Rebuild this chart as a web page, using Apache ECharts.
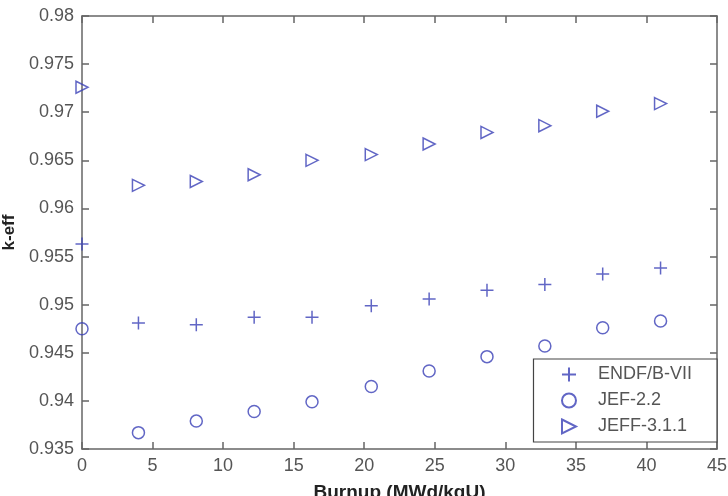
<!DOCTYPE html>
<html>
<head>
<meta charset="utf-8">
<script src="https://cdn.jsdelivr.net/npm/echarts@6/dist/echarts.min.js"></script>
<style>
  html, body { margin: 0; padding: 0; background: #fff; }
  #chart { width: 728px; height: 496px; }
</style>
</head>
<body>
<div id="chart"></div>
<script>
// burnup steps (MWd/kgU)
const burnup = [0, 4.0, 8.1, 12.2, 16.3, 20.5, 24.6, 28.7, 32.8, 36.9, 41.0];
// k-eff per library
const endf = [0.9563, 0.9481, 0.9479, 0.9487, 0.9487, 0.9499, 0.9506, 0.9515, 0.9521, 0.9532, 0.9538];
const jef22 = [0.9475, 0.9367, 0.9379, 0.9389, 0.9399, 0.9415, 0.9431, 0.9446, 0.9457, 0.9476, 0.9483];
const jeff311 = [0.9726, 0.9624, 0.9628, 0.9635, 0.9650, 0.9656, 0.9667, 0.9679, 0.9686, 0.9701, 0.9709];
const seriesNames = ['ENDF/B-VII', 'JEF-2.2', 'JEFF-3.1.1'];

const blue = '#3a40b6';
const axisColor = '#666';
const labelColor = '#555';
const font = 'Liberation Sans, Arial, sans-serif';

const pairs = (ys) => burnup.map((x, i) => [x, ys[i]]);

const tickOpts = { show: true, inside: true, length: 7, lineStyle: { color: axisColor, width: 1.5 } };
const lineOpts = { show: true, onZero: false, lineStyle: { color: axisColor, width: 1.5 } };

const chart = echarts.init(document.getElementById('chart'));
chart.setOption({
    animation: false,
    backgroundColor: '#fff',
    grid: { left: 82, right: 11, top: 16, bottom: 47, outerBoundsMode: 'none', containLabel: false },
    legend: {
        data: seriesNames,
        orient: 'vertical',
        right: 11,
        bottom: 54,
        backgroundColor: '#fff',
        borderColor: '#444',
        borderWidth: 1.2,
        borderRadius: 0,
        padding: [6, 25, 6, 26],
        itemGap: 7,
        itemWidth: 14,
        itemHeight: 14,
        textStyle: { fontFamily: font, fontSize: 18, color: '#555', padding: [0, 0, 0, 17] }
    },
    xAxis: [{
        type: 'value',
        min: 0, max: 45, interval: 5,
        name: 'Burnup (MWd/kgU)',
        nameLocation: 'middle',
        nameGap: 34,
        nameTextStyle: { fontFamily: font, fontSize: 19, fontWeight: 'bold', color: '#222' },
        axisLine: lineOpts,
        axisTick: tickOpts,
        axisLabel: { fontFamily: font, fontSize: 18, color: labelColor, margin: 8 },
        splitLine: { show: false }
    }, {
        type: 'value', position: 'top',
        min: 0, max: 45, interval: 5,
        axisLine: lineOpts, axisTick: tickOpts,
        axisLabel: { show: false }, splitLine: { show: false }
    }],
    yAxis: [{
        type: 'value',
        min: 0.935, max: 0.98, interval: 0.005,
        name: 'k-eff',
        nameLocation: 'middle',
        nameGap: 62,
        nameTextStyle: { fontFamily: font, fontSize: 17, fontWeight: 'bold', color: '#222' },
        axisLine: lineOpts,
        axisTick: tickOpts,
        axisLabel: {
            fontFamily: font, fontSize: 18, color: labelColor, margin: 8,
            formatter: (v) => String(parseFloat(v.toFixed(3)))
        },
        splitLine: { show: false }
    }, {
        type: 'value', position: 'right',
        min: 0.935, max: 0.98, interval: 0.005,
        axisLine: lineOpts, axisTick: tickOpts,
        axisLabel: { show: false }, splitLine: { show: false }
    }],
    series: [{
        name: seriesNames[0],
        type: 'scatter',
        symbol: 'path://M0,5L10,5M5,0L5,10',
        symbolSize: 13,
        itemStyle: { color: 'none', borderColor: blue, borderWidth: 1.5 },
        data: pairs(endf)
    }, {
        name: seriesNames[1],
        type: 'scatter',
        symbol: 'circle',
        symbolSize: 12,
        itemStyle: { color: 'none', borderColor: blue, borderWidth: 1.5 },
        data: pairs(jef22)
    }, {
        name: seriesNames[2],
        type: 'scatter',
        symbol: 'path://M0,0L10,5L0,10Z',
        symbolSize: 12,
        itemStyle: { color: 'none', borderColor: blue, borderWidth: 1.5 },
        data: pairs(jeff311)
    }]
});
</script>
</body>
</html>
